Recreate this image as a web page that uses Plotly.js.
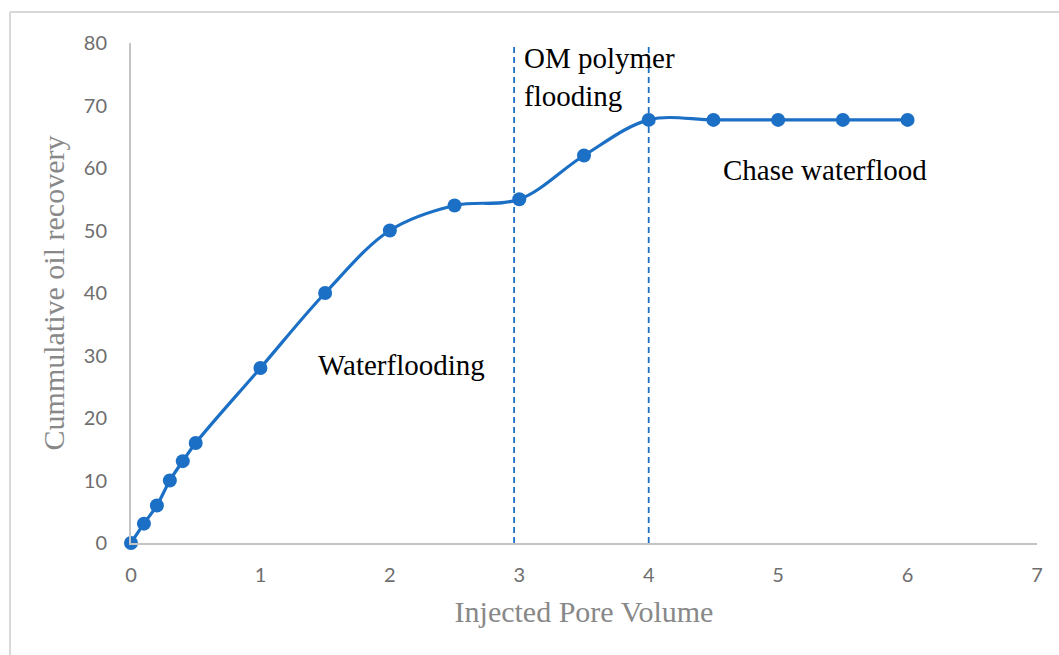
<!DOCTYPE html>
<html>
<head>
<meta charset="utf-8">
<script src="https://cdn.plot.ly/plotly-3.0.1.min.js"></script>
<style>html,body{margin:0;padding:0;background:#fff;}#chart{width:1059px;height:655px;}</style>
</head>
<body>
<div id="chart"></div>
<script>
// Data
const injectedPV = [0, 0.1, 0.2, 0.3, 0.4, 0.5, 1, 1.5, 2, 2.5, 3, 3.5, 4, 4.5, 5, 5.5, 6];
const oilRecovery = [0, 3.1, 6, 10, 13.1, 16, 28, 40, 50, 54, 55, 62, 67.7, 67.7, 67.7, 67.7, 67.7];
const phaseBoundaries = [2.96, 4.0];
const phaseLabels = ["Waterflooding", "OM polymer<br>flooding", "Chase waterflood"];
const xTicks = [0, 1, 2, 3, 4, 5, 6, 7];
const yTicks = [0, 10, 20, 30, 40, 50, 60, 70, 80];

const blue = "#1b6fc5";
const W = 1059, H = 655;

const trace = {
  x: injectedPV, y: oilRecovery,
  type: "scatter", mode: "lines+markers",
  line: {color: blue, width: 3.2, shape: "spline", smoothing: 1},
  marker: {color: blue, size: 14},
  cliponaxis: false,
  hoverinfo: "x+y"
};

const shapes = phaseBoundaries.map((b, i) => ({
  type: "line", xref: "x", yref: "y", x0: b, x1: b, y0: 0, y1: i === 0 ? 79.8 : 81,
  line: {color: blue, width: 1.8, dash: "6px,4px"}
}));
// outer chart border (top and left edges visible)
shapes.push({type: "line", xref: "paper", yref: "paper",
  x0: (10 - 131) / 906, x1: (1059 - 131) / 906, y0: (543 - 12) / 500, y1: (543 - 12) / 500,
  line: {color: "#d9d9d9", width: 2}});
shapes.push({type: "line", xref: "paper", yref: "paper",
  x0: (10 - 131) / 906, x1: (10 - 131) / 906, y0: (543 - 12) / 500, y1: (543 - 660) / 500,
  line: {color: "#d9d9d9", width: 2}});

const annFont = {family: "Liberation Serif, Times New Roman, serif", size: 29, color: "#000"};
const annotations = [
  {x: 1.43, y: 28.5, text: phaseLabels[0]},
  {x: 3.02, y: 74.5, text: phaseLabels[1], align: "left"},
  {x: 4.555, y: 59.7, text: phaseLabels[2]}
].map(a => Object.assign({xref: "x", yref: "y", xanchor: "left", yanchor: "middle",
  showarrow: false, font: annFont}, a));

const layout = {
  width: W, height: H,
  margin: {l: 131, r: 22, t: 43, b: 112},
  paper_bgcolor: "#fff", plot_bgcolor: "#fff",
  showlegend: false,
  font: {family: "Lato, Open Sans, sans-serif", color: "#6e6e6e", size: 20},
  xaxis: {
    range: [0, 7], tickvals: xTicks, ticks: "", showgrid: false, zeroline: false,
    showline: true, linecolor: "#c4c4c4", linewidth: 2,
    ticklabelstandoff: 13,
    tickfont: {family: "Lato, Open Sans, sans-serif", size: 20, color: "#6e6e6e"},
    title: {text: "Injected Pore Volume", standoff: 16,
      font: {family: "Liberation Serif, Times New Roman, serif", size: 30, color: "#888"}}
  },
  yaxis: {
    range: [0, 80], tickvals: yTicks, ticks: "", showgrid: false, zeroline: false,
    showline: true, linecolor: "#c4c4c4", linewidth: 2,
    ticklabelstandoff: 18,
    tickfont: {family: "Lato, Open Sans, sans-serif", size: 20, color: "#6e6e6e"},
    title: {text: "Cummulative oil recovery", standoff: 10,
      font: {family: "Liberation Serif, Times New Roman, serif", size: 30, color: "#888"}}
  },
  shapes: shapes,
  annotations: annotations
};

Plotly.newPlot("chart", [trace], layout, {displayModeBar: false});
</script>
</body>
</html>
